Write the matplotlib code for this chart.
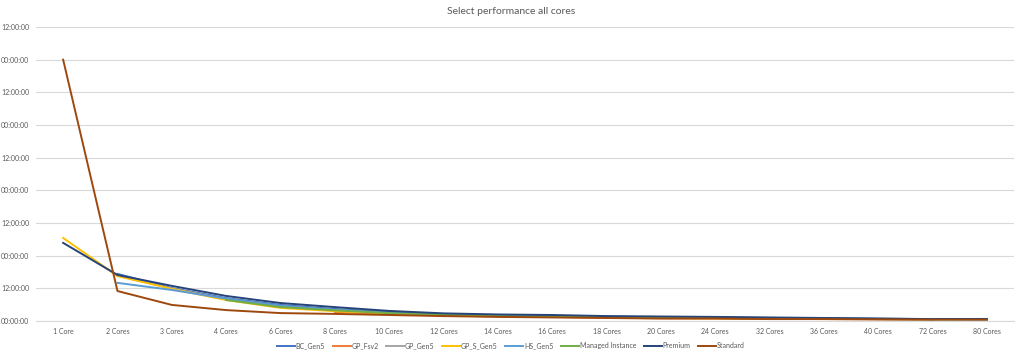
import numpy as np
import matplotlib
matplotlib.use("Agg")
import matplotlib.pyplot as plt
import matplotlib.ticker as mtick

nan = np.nan

# categories (x axis)
cores = ["1 Core", "2 Cores", "3 Cores", "4 Cores", "6 Cores", "8 Cores", "10 Cores",
         "12 Cores", "14 Cores", "16 Cores", "18 Cores", "20 Cores", "24 Cores",
         "32 Cores", "36 Cores", "40 Cores", "72 Cores", "80 Cores"]

# durations in hours
bc_gen5 = [nan, 17.3, 12.1, 8.4, 5.9, 4.4, 3.3, 2.5, 2.1, 1.9, 1.6, 1.4, 1.3, 1.1, 1.0, 0.8, 0.7, 0.6]
gp_fsv2 = [nan, nan, nan, nan, nan, 3.3, 2.6, 2.0, 1.7, 1.5, 1.2, 1.0, 0.9, 0.8, 0.7, 0.6, 0.5, nan]
gp_gen5 = [nan, 16.6, 11.9, 8.0, 5.4, 4.0, 3.0, 2.3, 1.9, 1.7, 1.4, 1.2, 1.1, 0.9, 0.8, 0.7, 0.6, 0.6]
gp_s_gen5 = [30.5, 16.5, 11.8, 7.7, 4.8, 3.6, 2.8, 2.1, 1.8, 1.6, 1.3, 1.1, 1.0, 0.9, 0.8, 0.7, nan, nan]
hs_gen5 = [nan, 14.0, 11.4, 8.2, 5.6, 4.1, 3.1, 2.4, 2.0, 1.8, 1.5, 1.3, 1.2, 1.0, 0.9, 0.8, 0.7, 0.6]
managed_instance = [nan, nan, nan, 7.7, 5.1, 3.9, 2.9, 2.2, 1.8, 1.6, 1.4, 1.2, 1.1, 0.9, 0.8, 0.7, 0.6, 0.6]
premium = [28.7, 16.9, 12.9, 9.2, 6.6, 5.1, 3.7, 2.8, 2.4, 2.2, 1.8, 1.65, 1.5, 1.3, 1.1, 0.9, 0.7, 0.75]
standard = [96.0, 11.0, 5.9, 4.0, 2.9, 2.6, 2.2, 1.8, 1.5, 1.3, 1.1, 0.9, 0.9, 0.7, 0.7, 0.6, 0.5, 0.5]

series = [
    ("BC_Gen5", bc_gen5, "#4472C4"),
    ("GP_Fsv2", gp_fsv2, "#ED7D31"),
    ("GP_Gen5", gp_gen5, "#A5A5A5"),
    ("GP_S_Gen5", gp_s_gen5, "#FFC000"),
    ("HS_Gen5", hs_gen5, "#5B9BD5"),
    ("Managed Instance", managed_instance, "#70AD47"),
    ("Premium", premium, "#264478"),
    ("Standard", standard, "#9E480E"),
]

plt.rcParams['font.family'] = ['Lato', 'DejaVu Sans']
txt = '#595959'

fig = plt.figure(figsize=(10.22, 3.58), dpi=100)
ax = fig.add_axes([0.0352, 0.1034, 0.9570, 0.8212])

x = np.arange(len(cores))
for name, vals, col in series:
    ax.plot(x, vals, color=col, lw=1.4, label=name, solid_joinstyle='round')

ax.set_xlim(-0.5, len(cores) - 0.5)
ax.set_ylim(0, 108)
ax.yaxis.set_major_locator(mtick.MultipleLocator(12))
ax.yaxis.set_major_formatter(mtick.FuncFormatter(lambda v, p: "%02d:00:00" % (int(round(v)) % 24)))
ax.set_xticks(x)
ax.set_xticklabels(cores)
ax.tick_params(axis='both', length=0, labelsize=5, colors=txt)
ax.tick_params(axis='x', pad=5)
ax.tick_params(axis='y', pad=5)
ax.grid(True, axis='y', color='#D9D9D9', lw=0.8)
ax.set_axisbelow(True)
for s in ['top', 'right', 'left']:
    ax.spines[s].set_visible(False)
ax.spines['bottom'].set_color('#D9D9D9')
ax.spines['bottom'].set_linewidth(0.8)

fig.text(0.5, 0.968, "Select performance all cores", ha='center', va='center',
         fontsize=7.5, color=txt)

fig.legend(loc='center', bbox_to_anchor=(0.5, 0.034), ncol=8, frameon=False,
           fontsize=5, labelcolor=txt, handlelength=2.6, handletextpad=0.1,
           columnspacing=1.1)

fig.savefig("out.png", dpi=100)
